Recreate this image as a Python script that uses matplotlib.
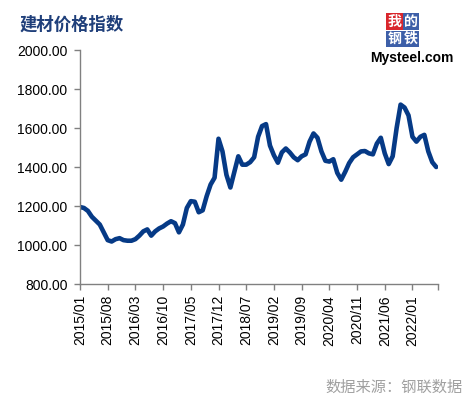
import numpy as np
import pandas as pd
import matplotlib
matplotlib.use('Agg')
import matplotlib.pyplot as plt

# Monthly building material price index, 2015/01 - 2022/07
months = pd.date_range('2015-01-01', periods=91, freq='MS').strftime('%Y/%m').tolist()
index_values = [
    1195, 1190, 1175, 1145, 1125, 1105, 1065, 1025, 1018, 1030, 1035, 1025,
    1022, 1022, 1030, 1048, 1070, 1080, 1048, 1070, 1085, 1095, 1110, 1122,
    1112, 1065, 1105, 1190, 1225, 1222, 1168, 1178, 1250, 1310, 1345, 1545,
    1480, 1360, 1295, 1375, 1455, 1412, 1412, 1425, 1450, 1555, 1610, 1620,
    1510, 1460, 1422, 1475, 1495, 1475, 1450, 1435, 1455, 1465, 1530, 1572,
    1550, 1480, 1432, 1428, 1440, 1370, 1335, 1375, 1420, 1450, 1465, 1480,
    1482, 1470, 1465, 1520, 1550, 1470, 1415, 1455, 1600, 1720, 1705, 1665,
    1555, 1530, 1555, 1565, 1480, 1425, 1400,
]
y_ticks = [800, 1000, 1200, 1400, 1600, 1800, 2000]

line_color = '#063a86'
axis_color = '#808080'

plt.rcParams['font.family'] = ['Liberation Sans', 'DejaVu Sans']
cjk = ['Noto Sans CJK SC', 'DejaVu Sans']

fig = plt.figure(figsize=(4.65, 3.97), dpi=100)
ax = fig.add_axes([0.172, 0.2846, 0.7695, 0.5894])

x = np.arange(len(months))
ax.plot(x, index_values, color=line_color, linewidth=3.3, solid_joinstyle='round', solid_capstyle='round')

ax.set_xlim(0, 90.4)
ax.set_ylim(800, 2000)

# x ticks every 7 months, plus a tick at the end of the axis
tick_pos = list(range(0, len(months), 7)) + [90.4]
tick_lab = [months[i] for i in range(0, len(months), 7)] + ['']
ax.set_xticks(tick_pos)
ax.set_xticklabels(tick_lab, rotation=90, fontsize=10)

ax.set_yticks(y_ticks)
ax.set_yticklabels([f'{v:.2f}' for v in y_ticks], fontsize=10)

for side in ['top', 'right']:
    ax.spines[side].set_visible(False)
for side in ['left', 'bottom']:
    ax.spines[side].set_color(axis_color)
    ax.spines[side].set_linewidth(1.0)
ax.tick_params(axis='both', colors=axis_color, length=4, width=1.0, labelcolor='black')
ax.tick_params(axis='y', pad=5)
ax.tick_params(axis='x', pad=4)

# Title
fig.text(0.043, 0.937, '建材价格指数', fontsize=12.5, fontweight='bold', color='#1f3f7a',
         family=cjk, va='center', ha='left')

# Logo
logo_cells = [('我', '#d9262c', 0, 0), ('的', '#3d5fa8', 1, 0), ('钢', '#3d5fa8', 0, 1), ('铁', '#3d5fa8', 1, 1)]
for ch, col, cx, cy in logo_cells:
    fig.text((394.5 + cx * 16.5) / 465, 1 - (21.5 + cy * 17.5) / 397, ch, fontsize=10, color='white',
             family=cjk, fontweight='bold', ha='center', va='center',
             bbox=dict(boxstyle='square,pad=0.08', fc=col, ec='none'))
fig.text(412 / 465, 1 - 58 / 397, 'Mysteel.com', fontsize=10, fontweight='bold', color='black',
         ha='center', va='center')

# Source
fig.text(0.994, 0.025, '数据来源：钢联数据', fontsize=11, color='#a0a0a0',
         family=cjk, ha='right', va='center')

fig.savefig('out.png', dpi=100)
